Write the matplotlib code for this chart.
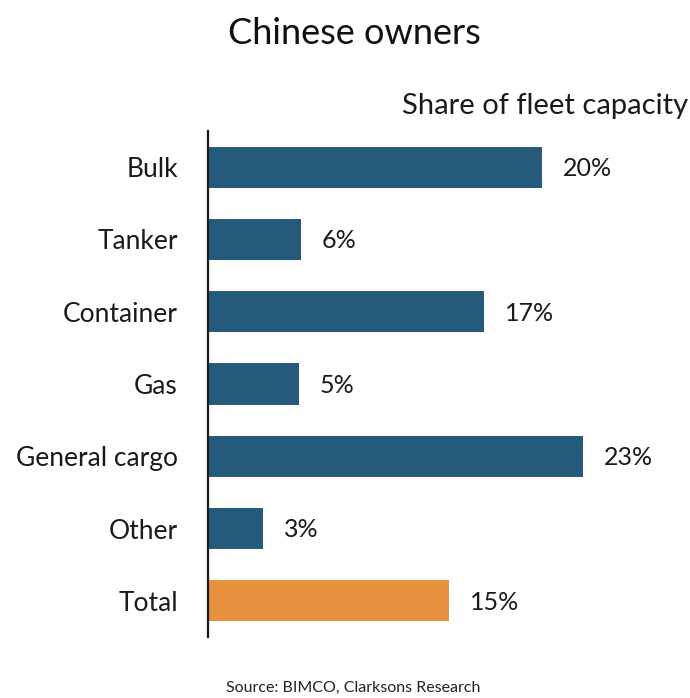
import matplotlib
matplotlib.use("Agg")
import matplotlib.pyplot as plt

categories = ["Bulk", "Tanker", "Container", "Gas", "General cargo", "Other", "Total"]
values = [20.2, 5.6, 16.7, 5.5, 22.7, 3.3, 14.6]
value_labels = ["20%", "6%", "17%", "5%", "23%", "3%", "15%"]
bar_colors = ["#265A7C"] * 6 + ["#E8913F"]

plt.rcParams['font.family'] = ['Lato', 'DejaVu Sans']

fig = plt.figure(figsize=(6.9, 6.98), dpi=100)
ax = fig.add_axes([0.302, 0.0874, 0.658, 0.7249])

y = list(range(len(categories)))
ax.barh(y, values, height=0.57, color=bar_colors)
ax.set_ylim(6.5, -0.5)
ax.set_xlim(0, 27.5)

for yi, v, lab in zip(y, values, value_labels):
    ax.annotate(lab, (v, yi), xytext=(15, -1), textcoords="offset points",
                ha="left", va="center", fontsize=18, color="#1a1a1a")

ax.set_yticks(y)
ax.set_yticklabels(categories, fontsize=19, color="#1a1a1a")
ax.tick_params(axis="y", length=0, pad=22)
ax.set_xticks([])
for s in ["top", "right", "bottom"]:
    ax.spines[s].set_visible(False)
ax.spines["left"].set_color("#1a1a1a")
ax.spines["left"].set_linewidth(1.6)

fig.text(0.514, 0.952, "Chinese owners", ha="center", va="center", fontsize=26, color="#111111")
fig.text(0.997, 0.848, "Share of fleet capacity", ha="right", va="center", fontsize=21, color="#1a1a1a")
fig.text(0.512, 0.014, "Source: BIMCO, Clarksons Research", ha="center", va="center", fontsize=11.5, color="#222222")

fig.savefig("out.png", dpi=100)
